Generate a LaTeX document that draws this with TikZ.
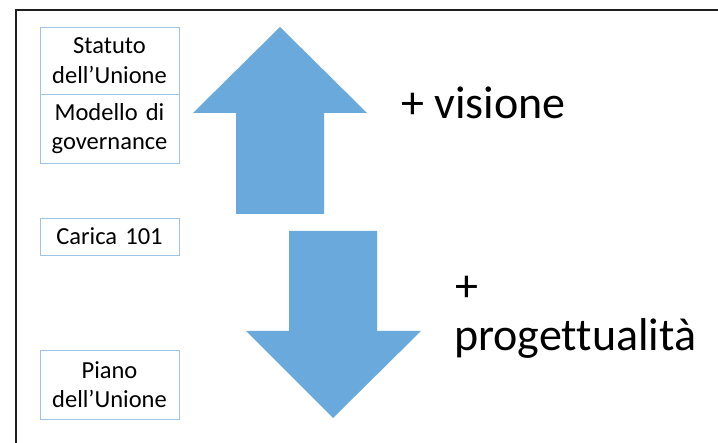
\documentclass[tikz,border=0pt]{standalone}
\usepackage{fontspec}
\setmainfont{Carlito}[Ligatures=NoCommon]
\begin{document}
\begin{tikzpicture}[x=1pt,y=-1pt,
  framerule/.style={line width=1.8pt,draw=black!88},
  labelbox/.style={draw=boxblue,line width=0.9pt,rectangle,inner sep=0pt,
    minimum width=139pt,text width=139pt,align=center,
    font=\fontsize{24.5}{29.5}\selectfont},
  bigarrow/.style={fill=arrowblue,draw=none},
  bigtext/.style={font=\fontsize{46}{50}\selectfont,inner sep=0pt}]
\definecolor{boxblue}{RGB}{157,195,230}
\definecolor{arrowblue}{RGB}{106,169,219}
\useasboundingbox (0,0) rectangle (718,443);
\fill[white] (0,0) rectangle (718,443);
% slide frame: top and left rules
\coordinate (ftl) at (16,10);
\coordinate (ftr) at (718,10);
\coordinate (fbl) at (16,443);
\draw[framerule] (ftr) -- (ftl) -- (fbl);
% labels on the left
\node[labelbox,minimum height=67pt] (statuto) at (109.5,60.5) {Statuto\\dell’Unione};
\node[labelbox,minimum height=69pt] (modello) at (109.5,128.5) {Modello di\\governance};
\node[labelbox,minimum height=37pt] (carica) at (109.5,236.5) {Carica 101};
\node[labelbox,minimum height=69pt] (piano) at (109.5,384.5) {Piano\\dell’Unione};
% block arrows
\fill[bigarrow] (280,27) -- (367,113) -- (324,113) -- (324,214) -- (236,214) -- (236,113) -- (193,113) -- cycle;
\fill[bigarrow] (289,231) -- (377,231) -- (377,331) -- (421,331) -- (333,418) -- (246,331) -- (289,331) -- cycle;
% captions
\node[bigtext,anchor=base west] (visione) at (401,119) {+ visione};
\node[bigtext,anchor=base west] (piu) at (455,302) {+};
\node[bigtext,anchor=base west] (progetto) at (454,351) {progettualità};
\end{tikzpicture}
\end{document}
